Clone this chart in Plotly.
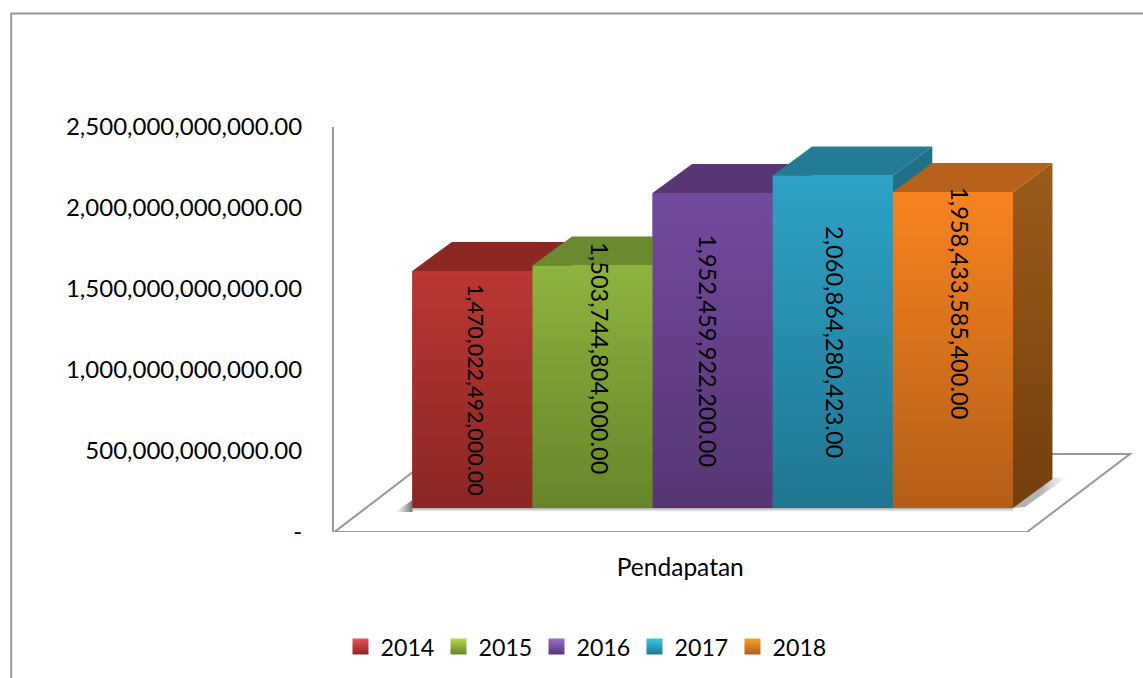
import plotly.graph_objects as go

YEARS = [2014, 2015, 2016, 2017, 2018]
VALUES = [1470022492000.00, 1503744804000.00, 1952459922200.00, 2060864280423.00, 1958433585400.00]
LABELS = ["1,470,022,492,000.00", "1,503,744,804,000.00", "1,952,459,922,200.00",
          "2,060,864,280,423.00", "1,958,433,585,400.00"]
TICK_VALUES = [0, 5e11, 1e12, 1.5e12, 2e12, 2.5e12]
TICK_LABELS = ["-", "500,000,000,000.00", "1,000,000,000,000.00", "1,500,000,000,000.00",
               "2,000,000,000,000.00", "2,500,000,000,000.00"]
CATEGORY = "Pendapatan"

FRONT_TOP = ["#BA3733", "#8DB33E", "#734A9E", "#2DA2C7", "#F78320"]
FRONT_BOTTOM = ["#8A2624", "#66852A", "#553673", "#207691", "#B45E18"]
TOP_FACE = ["#8B2824", "#6A8A30", "#563774", "#247B96", "#B6611C"]
SIDE_TOP = ["#7C2421", "#5F7C2B", "#4E3269", "#217289", "#9C5B19"]
SIDE_BOTTOM = ["#5E1A18", "#48601E", "#3A2550", "#16566A", "#733F0E"]
LEGEND_LIGHT = ["#E8505A", "#B5D84E", "#9A6CCB", "#3CC6E4", "#F9A02E"]
LEGEND_DARK = ["#8A2624", "#66852A", "#553673", "#207691", "#B45E18"]
LABEL_XSHIFT = [3, 8, -4, 2, 7]
LABEL_YSHIFT = [-1, 29, 0, 0, 47]
LABEL_SIZE = [21.5, 23.6, 23.6, 23.6, 23.6]

FONT = "Lato"
GREY = "#989898"
W, H = 1143, 678
PX_L, PX_R, PX_T, PX_B = 333.5, 1133, 127, 532
BAR_PITCH = 120.2
X0 = 2014 - (472 - PX_L) / BAR_PITCH
X1 = 2014 + (PX_R - 472) / BAR_PITCH
Y2_SCALE = 161.3 / 1e12
Y2_MIN = -(PX_B - 508) / Y2_SCALE
Y2_MAX = (508 - PX_T) / Y2_SCALE
DX = 39.5 / BAR_PITCH
DY = 29 / Y2_SCALE


def xpx(px):
    return 2014 + (px - 472) / BAR_PITCH


def ypx(px):
    return (508 - px) / Y2_SCALE


fig = go.Figure()

for i, (yr, v) in enumerate(zip(YEARS, VALUES)):
    fig.add_trace(go.Bar(x=[yr], y=[v], width=1, yaxis="y2", marker=dict(color=FRONT_BOTTOM[i], line=dict(width=0)),
                         showlegend=False, hoverinfo="skip"))

# floor shadows
fig.add_trace(go.Scatter(x=[xpx(412), xpx(412), xpx(395), xpx(412)],
                         y=[ypx(500), ypx(512), ypx(512), ypx(500)],
                         yaxis="y2", mode="none", fill="toself", showlegend=False, hoverinfo="skip",
                         fillgradient=dict(type="horizontal", colorscale=[[0, "rgba(130,130,130,0)"], [1, "rgba(80,80,80,0.8)"]])))
fig.add_trace(go.Scatter(x=[xpx(412), xpx(1013), xpx(1013), xpx(412), xpx(412)],
                         y=[ypx(508), ypx(508), ypx(512), ypx(512), ypx(508)],
                         yaxis="y2", mode="none", fill="toself", showlegend=False, hoverinfo="skip",
                         fillgradient=dict(type="vertical", colorscale=[[0, "rgba(150,150,150,0)"], [1, "rgba(110,110,110,0.6)"]])))
fig.add_trace(go.Scatter(x=[xpx(1012), xpx(1052), xpx(1067), xpx(1025), xpx(1012)],
                         y=[ypx(508), ypx(478), ypx(477), ypx(507), ypx(508)],
                         yaxis="y2", mode="none", fill="toself", showlegend=False, hoverinfo="skip",
                         fillgradient=dict(type="horizontal", colorscale=[[0, "rgba(110,110,110,0.55)"], [0.55, "rgba(110,110,110,0.5)"], [1, "rgba(170,170,170,0.05)"]])))

for i, (yr, v) in enumerate(zip(YEARS, VALUES)):
    l, r = yr - 0.5, yr + 0.5
    fig.add_trace(go.Scatter(x=[l, r, r + DX, l + DX, l], y=[v, v, v + DY, v + DY, v], yaxis="y2",
                             mode="none", fill="toself", fillcolor=TOP_FACE[i],
                             showlegend=False, hoverinfo="skip"))
    fig.add_trace(go.Scatter(x=[r, r + DX, r + DX, r, r], y=[0, DY, v + DY, v, 0], yaxis="y2",
                             mode="none", fill="toself", showlegend=False, hoverinfo="skip",
                             fillgradient=dict(type="vertical",
                                               colorscale=[[0, SIDE_BOTTOM[i]], [1, SIDE_TOP[i]]])))
    fig.add_trace(go.Scatter(x=[l, r, r, l, l], y=[0, 0, v, v, 0], yaxis="y2",
                             mode="none", fill="toself", showlegend=False, hoverinfo="skip",
                             fillgradient=dict(type="vertical",
                                               colorscale=[[0, FRONT_BOTTOM[i]], [1, FRONT_TOP[i]]])))

# legend entries
for i, yr in enumerate(YEARS):
    fig.add_trace(go.Scatter(x=[None], y=[None], yaxis="y2", mode="markers", name=str(yr),
                             marker=dict(symbol="square", size=16, color=LEGEND_LIGHT[i], line=dict(width=0),
                                         gradient=dict(type="vertical", color=LEGEND_DARK[i])),
                             hoverinfo="skip"))

annotations = [dict(x=yr, y=v / 2, xref="x", yref="y2", text=lab, textangle=90, showarrow=False,
                    xshift=LABEL_XSHIFT[i], yshift=LABEL_YSHIFT[i],
                    font=dict(family=FONT, size=LABEL_SIZE[i], color="#000000"))
               for i, (yr, v, lab) in enumerate(zip(YEARS, VALUES, LABELS))]

fig.update_layout(
    width=W, height=H, autosize=False,
    paper_bgcolor="#FFFFFF", plot_bgcolor="rgba(0,0,0,0)",
    margin=dict(l=PX_L, r=W - PX_R, t=PX_T, b=H - PX_B, pad=0),
    font=dict(family=FONT, color="#000000"),
    xaxis=dict(range=[X0, X1], showgrid=False, zeroline=False, showline=False, ticks="",
               tickmode="array", tickvals=[xpx(680)], ticktext=[CATEGORY],
               tickfont=dict(family=FONT, size=24.5), ticklabelstandoff=18),
    yaxis=dict(range=[0, 2.5e12], showgrid=False, zeroline=False, showline=True, linecolor=GREY, linewidth=2,
               ticks="", tickmode="array", tickvals=TICK_VALUES, ticktext=TICK_LABELS,
               tickfont=dict(family=FONT, size=24), ticklabelstandoff=25),
    yaxis2=dict(range=[Y2_MIN, Y2_MAX], overlaying="y", visible=False),
    barmode="overlay",
    showlegend=True,
    legend=dict(orientation="h", x=(340 - PX_L) / (PX_R - PX_L), xref="paper", xanchor="left", y=(H - 647) / H, yref="container", yanchor="middle",
                entrywidth=53, entrywidthmode="pixels", font=dict(family=FONT, size=23.2), bgcolor="rgba(0,0,0,0)",
                traceorder="normal"),
    annotations=annotations,
    shapes=[
        dict(type="path", xref="x", yref="y", layer="below",
             path=f"M{xpx(334)},0 L{xpx(1027)},0 L{xpx(1130)},{78/162*1e12} L{xpx(436)},{78/162*1e12} Z",
             line=dict(color=GREY, width=2), fillcolor="#FFFFFF"),
        dict(type="rect", xref="paper", yref="paper", layer="below",
             x0=(10.5 - PX_L) / (PX_R - PX_L), x1=(1200 - PX_L) / (PX_R - PX_L),
             y0=(PX_B - 700) / (PX_B - PX_T), y1=(PX_B - 13.5) / (PX_B - PX_T),
             line=dict(color=GREY, width=2), fillcolor="rgba(0,0,0,0)"),
    ],
)

fig.write_html("out.html", config={"displayModeBar": False},
               post_script="document.body.style.margin='0';document.body.style.overflow='hidden';")
